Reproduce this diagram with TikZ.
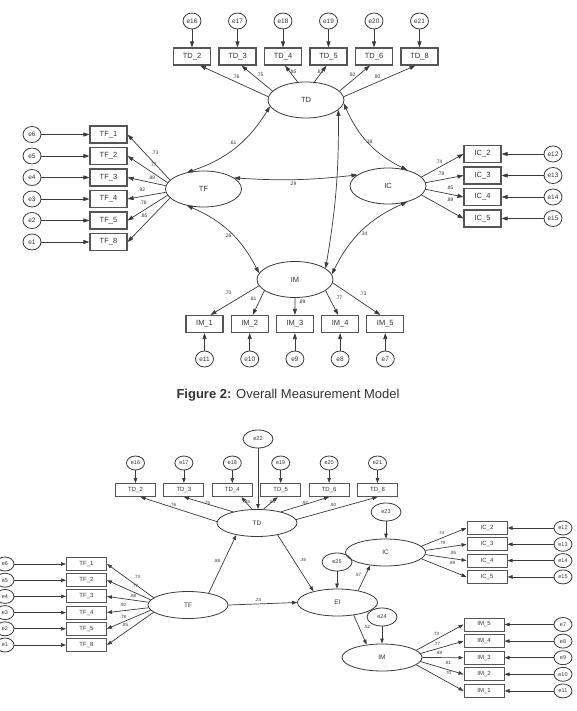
\documentclass[tikz,border=0pt]{standalone}
\usepackage{fontspec}
\setmainfont{Liberation Sans}
\usetikzlibrary{shapes.geometric,arrows.meta}
\definecolor{lc}{HTML}{3A3A3A}
\definecolor{bc}{HTML}{555555}
\definecolor{tc}{HTML}{333333}
\tikzset{
  ob/.style={draw=bc, line width=1.1pt, rectangle, minimum width=37pt, minimum height=17pt, inner sep=0pt, text=tc, font=\fontsize{7.5}{8}\selectfont},
  lat/.style={draw=lc, line width=0.8pt, ellipse, minimum width=76pt, minimum height=36pt, inner sep=0pt, text=tc, font=\fontsize{7.5}{8}\selectfont},
  err/.style={draw=lc, line width=0.8pt, ellipse, minimum width=18pt, minimum height=16pt, inner sep=0pt, text=tc, font=\fontsize{6.5}{7}\selectfont},
  arr/.style={draw=lc, line width=0.7pt, -{Triangle[length=6pt,width=4pt]}},
  cov/.style={draw=lc, line width=0.7pt, {Triangle[length=6pt,width=4pt]}-{Triangle[length=6pt,width=4pt]}},
  lab/.style={inner sep=0pt, text=tc, font=\fontsize{5}{5}\selectfont},
  obs/.style={draw=bc, line width=1pt, rectangle, minimum width=40pt, minimum height=13pt, inner sep=0pt, text=tc, font=\fontsize{6}{6}\selectfont},
  lats/.style={draw=lc, line width=0.8pt, ellipse, minimum width=80pt, minimum height=27pt, inner sep=0pt, text=tc, font=\fontsize{6.5}{7}\selectfont},
  errs/.style={draw=lc, line width=0.8pt, ellipse, minimum width=18pt, minimum height=14pt, inner sep=0pt, text=tc, font=\fontsize{5.5}{6}\selectfont},
  errb/.style={draw=lc, line width=0.8pt, ellipse, minimum width=30pt, minimum height=18pt, inner sep=0pt, text=tc, font=\fontsize{5.5}{6}\selectfont},
  arrs/.style={draw=lc, line width=0.7pt, -{Triangle[length=5pt,width=3.5pt]}},
  labs/.style={inner sep=0pt, text=tc, font=\fontsize{4.5}{5}\selectfont},
}
\begin{document}
\begin{tikzpicture}[x=1pt,y=-1pt]
\useasboundingbox[fill=white] (0,0) rectangle (577,711);
%%%%%%%%%%%%%%%% TOP DIAGRAM
\node[lat] (TD) at (306,100) {TD};
\node[lat] (TF) at (203.5,189) {TF};
\node[lat] (IC) at (388,186) {IC};
\node[lat] (IM) at (295,279.5) {IM};
% TD indicators
\foreach \n/\e [count=\i from 0] in {2/16,3/17,4/18,5/19,6/20,8/21} {
  \node[ob] (TD\n) at ({192+45.5*\i},56.5) {TD\_\n};
  \node[err] (e\e) at ({192+45.5*\i},21) {e\e};
  \draw[arr] (e\e) -- (TD\n);
}
\foreach \n/\a/\s in {2/175/8,3/165/4,4/115/2,5/65/-2,6/15/-4,8/5/-4}
  \draw[arr] (TD.\a) -- ([xshift=\s pt]TD\n.south);
% TF indicators
\foreach \n/\e [count=\i from 0] in {1/6,2/5,3/4,4/3,5/2,8/1} {
  \node[ob] (TF\n) at (108.5,{134.5+21.5*\i}) {TF\_\n};
  \node[err] (e\e) at (32,{134.5+21.5*\i}) {e\e};
  \draw[arr] (e\e) -- (TF\n);
}
\foreach \n/\a in {1/165,2/170,3/175,4/185,5/190,8/195}
  \draw[arr] (TF.\a) -- (TF\n.east);
% IC indicators
\foreach \n/\e [count=\i from 0] in {2/12,3/13,4/14,5/15} {
  \node[ob] (IC\n) at (482.5,{154+21.5*\i}) {IC\_\n};
  \node[err] (e\e) at (553,{154+21.5*\i}) {e\e};
  \draw[arr] (e\e) -- (IC\n);
}
\foreach \n/\a in {2/15,3/5,4/-5,5/-15}
  \draw[arr] (IC.\a) -- (IC\n.west);
% IM indicators
\foreach \n/\e [count=\i from 0] in {1/11,2/10,3/9,4/8,5/7} {
  \node[ob] (IM\n) at ({204.5+45.2*\i},324) {IM\_\n};
  \node[err] (e\e) at ({204.5+45.2*\i},359) {e\e};
  \draw[arr] (e\e) -- (IM\n);
}
\foreach \n/\a/\s in {1/190/6,2/200/3,3/270/0,4/-20/-2,5/-5/-5}
  \draw[arr] (IM.\a) -- ([xshift=\s pt]IM\n.north);
% covariances
\draw[cov] (TD.190) to[bend left=20] (TF.135);
\draw[cov] (TD.-5) to[bend right=20] (IC.40);
\draw[cov] (TF.225) to[bend left=20] (IM.170);
\draw[cov] (IC.-40) to[bend right=20] (IM.8);
\draw[cov] (TF.20) to[bend right=5] (IC.160);
\draw[cov] (TD.-17) to[bend left=5] (IM.20);
% labels
\foreach \t/\x/\y in {.76/236/77,.75/260/75,.85/293/72,.83/320/72,.92/352/75,.90/377/77,
  .73/155/152.7,.77/153.3/164.3,.88/151.7/177.7,.92/141.7/190,.78/143.3/202.7,.85/144/216,
  .74/439/162,.79/441/174,.85/450/188,.89/450/200,
  .70/228/293,.81/253/299,.89/302/302,.77/339/298,.73/363/294,
  .61/233/143,.29/293/184,.26/228/236,.38/369/142,.34/364/234}
  \node[lab] at (\x,\y) {\t};
% caption
\node[text=tc, font=\fontsize{13}{15}\selectfont] (cap) at (288,395) {\textbf{Figure 2:} Overall Measurement Model};
%%%%%%%%%%%%%%%% BOTTOM DIAGRAM
\node[lats] (bTD) at (257,523) {TD};
\node[lats] (bTF) at (188,605) {TF};
\node[lats] (bIC) at (385.5,552.5) {IC};
\node[lats] (bEI) at (337.5,602.5) {EI};
\node[lats] (bIM) at (382,657.5) {IM};
\node[errb] (e22) at (258,439) {e22};
\node[errb] (e23) at (386,512) {e23};
\node[errb] (e25) at (337,562) {e25};
\node[errb] (e24) at (382,617) {e24};
\draw[arrs] (e22) -- (e22 |- bTD.north);
\draw[arrs] (e23) -- (e23 |- bIC.north);
\draw[arrs] (e25) -- (e25 |- bEI.north);
\draw[arrs] (e24) -- (e24 |- bIM.north);
% TD indicators
\foreach \n/\e [count=\i from 0] in {2/16,3/17,4/18,5/19,6/20,8/21} {
  \node[obs] (bTD\n) at ({135.5+48.4*\i},490) {TD\_\n};
  \node[errs] (be\e) at ({135.5+48.4*\i},463) {e\e};
  \draw[arrs] (be\e) -- (bTD\n);
}
\foreach \n/\a/\s in {2/178/5,3/155/0,4/110/9,5/65/-3,6/25/0,8/5/0}
  \draw[arrs] (bTD.\a) -- ([xshift=\s pt]bTD\n.south);
% TF indicators
\foreach \n/\e [count=\i from 0] in {1/6,2/5,3/4,4/3,5/2,8/1} {
  \node[obs] (bTF\n) at (86.5,{564+16.2*\i}) {TF\_\n};
  \node[errs] (be\e) at (5,{564+16.2*\i}) {e\e};
  \draw[arrs] (be\e) -- (bTF\n);
}
\foreach \n/\a in {1/168,2/172,3/176,4/184,5/188,8/192}
  \draw[arrs] (bTF.\a) -- (bTF\n.east);
% IC indicators
\foreach \n/\e [count=\i from 0] in {2/12,3/13,4/14,5/15} {
  \node[obs] (bIC\n) at (487,{528+16.3*\i}) {IC\_\n};
  \node[errs] (be\e) at (563,{528+16.3*\i}) {e\e};
  \draw[arrs] (be\e) -- (bIC\n);
}
\foreach \n/\a in {2/10,3/3,4/-3,5/-10}
  \draw[arrs] (bIC.\a) -- (bIC\n.west);
% IM indicators
\foreach \n/\e [count=\i from 0] in {5/7,4/8,3/9,2/10,1/11} {
  \node[obs] (bIM\n) at (484,{624.5+16.6*\i}) {IM\_\n};
  \node[errs] (be\e) at (563,{624.5+16.6*\i}) {e\e};
  \draw[arrs] (be\e) -- (bIM\n);
}
\foreach \n/\a in {5/12,4/6,3/0,2/-6,1/-12}
  \draw[arrs] (bIM.\a) -- (bIM\n.west);
% structural paths
\draw[arrs] (bTF.30) -- (bTD.-150);
\draw[arrs] (bTF.east) -- (bEI.west);
\draw[arrs] (bTD.-30) -- (bEI.155);
\draw[arrs] (bEI.30) -- (bIC.-140);
\draw[arrs] (bEI.-38) -- (bIM.140);
% labels
\foreach \t/\x/\y in {.76/173/505,.75/207/503,.85/247/502,.83/272/502,.92/305/503,.90/333/505,
  .73/137/577,.77/135/586,.88/133/596,.92/123/605,.78/123/617,.85/125/625,
  .88/217/561,.24/258/600,.35/303/560,.57/358/575,.52/367/627,
  .74/441/533,.79/442/543,.85/453/553,.89/452/563,
  .73/436/634,.77/437/644,.89/439/653,.81/448/663,.70/448/673}
  \node[labs] at (\x,\y) {\t};
\end{tikzpicture}
\end{document}
